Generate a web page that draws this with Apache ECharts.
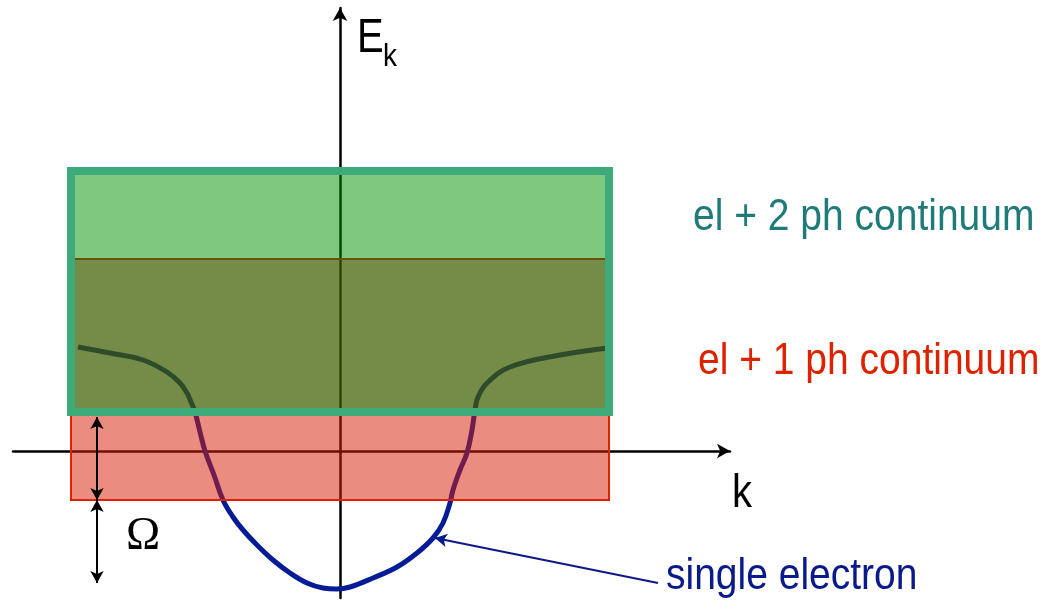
<!DOCTYPE html>
<html>
<head>
<meta charset="utf-8">
<script src="https://cdn.jsdelivr.net/npm/echarts@6/dist/echarts.min.js"></script>
<style>
  html, body { margin: 0; padding: 0; background: #ffffff; }
  #chart { width: 1046px; height: 600px; }
</style>
</head>
<body>
<div id="chart"></div>
<script>
// Axis windows (arbitrary units): momentum k and energy E_k
const kRange = [-3.27, 3.90];
const eRange = [-1.47, 4.43];

// Single-electron dispersion E(k)
const curveK = [-2.62, -2.30, -1.97, -1.73, -1.60, -1.53, -1.49, -1.45, -1.40, -1.35, -1.26, -1.17, -1.07, -0.97, -0.83, -0.67, -0.50, -0.33, -0.17, -0.03,
                 0.10, 0.33, 0.57, 0.77, 0.93, 1.03, 1.10, 1.13, 1.20, 1.27, 1.32, 1.35, 1.38, 1.47, 1.70, 2.20, 2.68];
const curveE = [ 1.04, 0.98, 0.91, 0.79, 0.68, 0.58, 0.49, 0.39, 0.19, 0.00, -0.24, -0.49, -0.66, -0.79, -0.94, -1.09, -1.22, -1.32, -1.37, -1.38,
                -1.36, -1.27, -1.16, -1.02, -0.87, -0.72, -0.52, -0.39, -0.19, -0.02, 0.21, 0.41, 0.54, 0.68, 0.84, 0.96, 1.03];

// Energy bands spanning the k window
const kHalf = 2.69;
const bandNames = ['gap', 'el + 1 ph continuum', 'el + 2 ph continuum'];
const bandLow  = [-0.49, 0.39, 1.92];
const bandHigh = [ 0.39, 1.92, 2.80];

// Omega markers: k position and the energies they join
const omegaK = -2.43;
const omegaLevels = [0.34, -0.49, -1.32];

// Pointer from the "single electron" note to the curve
const pointerFrom = [3.18, -1.32];
const pointerTo   = [0.95, -0.87];

// Text notes anchored in axis units
const noteText = ['el + 2 ph continuum', 'el + 1 ph continuum', 'single electron', 'k', 'E', 'k', 'Ω'];
const noteK    = [3.53, 3.58, 3.26, 3.92, 0.17, 0.43, -1.97];
const noteE    = [2.335, 0.895, -1.255, -0.43, 4.12, 3.94, -0.86];

const SANS = '"Liberation Sans", Arial, sans-serif';
const SERIF = '"Liberation Serif", "Times New Roman", serif';

const bandStyles = [
  { fill: 'rgba(216,29,6,0.51)', stroke: '#dd2200', lineWidth: 2 },
  { fill: 'rgba(62,95,0,0.72)' },
  { fill: 'rgba(0,145,0,0.5)' }
];

const noteStyles = [
  { color: '#1f7b78', size: 39, family: SANS, align: 'left', sy: 1.15 },
  { color: '#dd2200', size: 39, family: SANS, align: 'left', sy: 1.15 },
  { color: '#0a1a8a', size: 39, family: SANS, align: 'left', sy: 1.15 },
  { color: '#000000', size: 40, family: SANS, align: 'left', sy: 1.15 },
  { color: '#000000', size: 40, family: SANS, align: 'left', sy: 1.2 },
  { color: '#000000', size: 28, family: SANS, align: 'left', sy: 1.15 },
  { color: '#000000', size: 46, family: SERIF, align: 'center', sy: 1.0 }
];

const axisCommon = {
  type: 'value',
  axisLine: {
    show: true, onZero: true,
    symbol: ['none', 'arrow'], symbolSize: [11, 13],
    lineStyle: { color: '#000000', width: 2.5 }
  },
  axisTick: { show: false },
  axisLabel: { show: false },
  splitLine: { show: false }
};

const chart = echarts.init(document.getElementById('chart'), null, { renderer: 'canvas' });

chart.setOption({
  animation: false,
  backgroundColor: '#ffffff',
  grid: { left: 13, right: 316, top: 8, bottom: 2, containLabel: false },
  xAxis: Object.assign({}, axisCommon, { min: kRange[0], max: kRange[1] }),
  yAxis: Object.assign({}, axisCommon, { min: eRange[0], max: eRange[1] }),
  series: [
    {
      name: 'single electron',
      type: 'line',
      z: 2,
      smooth: 0.4,
      symbol: 'none',
      silent: true,
      clip: false,
      lineStyle: { color: '#061c96', width: 5 },
      data: curveK.map((k, i) => [k, curveE[i]])
    },
    {
      name: 'bands',
      type: 'custom',
      z: 3,
      silent: true,
      clip: false,
      data: bandNames.map((n, i) => [i, bandLow[i], bandHigh[i]]),
      encode: { x: -1, y: [1, 2] },
      renderItem: function (params, api) {
        const i = params.dataIndex;
        const p0 = api.coord([-kHalf, bandHigh[i]]);
        const p1 = api.coord([kHalf, bandLow[i]]);
        return {
          type: 'rect',
          shape: { x: p0[0], y: p0[1], width: p1[0] - p0[0], height: p1[1] - p0[1] },
          style: bandStyles[i]
        };
      }
    },
    {
      name: 'continuum frame',
      type: 'custom',
      z: 4,
      silent: true,
      clip: false,
      data: [[bandLow[1], bandHigh[2], bandLow[2]]],
      encode: { x: -1, y: [0, 1] },
      renderItem: function (params, api) {
        const tl = api.coord([-kHalf, api.value(1)]);
        const br = api.coord([kHalf, api.value(0)]);
        const yMid = api.coord([0, api.value(2)])[1];
        return {
          type: 'group',
          children: [
            {
              type: 'line',
              shape: { x1: tl[0], y1: yMid, x2: br[0], y2: yMid },
              style: { stroke: '#6b5000', lineWidth: 2 }
            },
            {
              type: 'rect',
              shape: { x: tl[0], y: tl[1], width: br[0] - tl[0], height: br[1] - tl[1] },
              style: { fill: 'none', stroke: '#3daa7a', lineWidth: 8 }
            }
          ]
        };
      }
    },
    {
      name: 'omega',
      type: 'line',
      z: 5,
      data: [],
      markLine: {
        silent: true,
        symbol: ['arrow', 'arrow'],
        symbolSize: [10, 12],
        label: { show: false },
        lineStyle: { type: 'solid', color: '#000000', width: 2 },
        data: [
          [{ coord: [omegaK, omegaLevels[0]] }, { coord: [omegaK, omegaLevels[1]] }],
          [{ coord: [omegaK, omegaLevels[1]] }, { coord: [omegaK, omegaLevels[2]] }]
        ]
      }
    },
    {
      name: 'pointer',
      type: 'line',
      z: 5,
      data: [],
      markLine: {
        silent: true,
        symbol: ['none', 'arrow'],
        symbolSize: [10, 12],
        label: { show: false },
        lineStyle: { type: 'solid', color: '#0a1a8a', width: 2 },
        data: [
          [{ coord: pointerFrom }, { coord: pointerTo }]
        ]
      }
    },
    {
      name: 'notes',
      type: 'custom',
      z: 6,
      silent: true,
      clip: false,
      data: noteText.map((t, i) => [noteK[i], noteE[i]]),
      renderItem: function (params, api) {
        const i = params.dataIndex;
        const p = api.coord([noteK[i], noteE[i]]);
        const s = noteStyles[i];
        return {
          type: 'text',
          x: p[0],
          y: p[1],
          scaleY: s.sy,
          style: {
            text: noteText[i],
            fontSize: s.size,
            fontFamily: s.family,
            fill: s.color,
            align: s.align,
            verticalAlign: 'middle'
          }
        };
      }
    }
  ]
});
</script>
</body>
</html>
